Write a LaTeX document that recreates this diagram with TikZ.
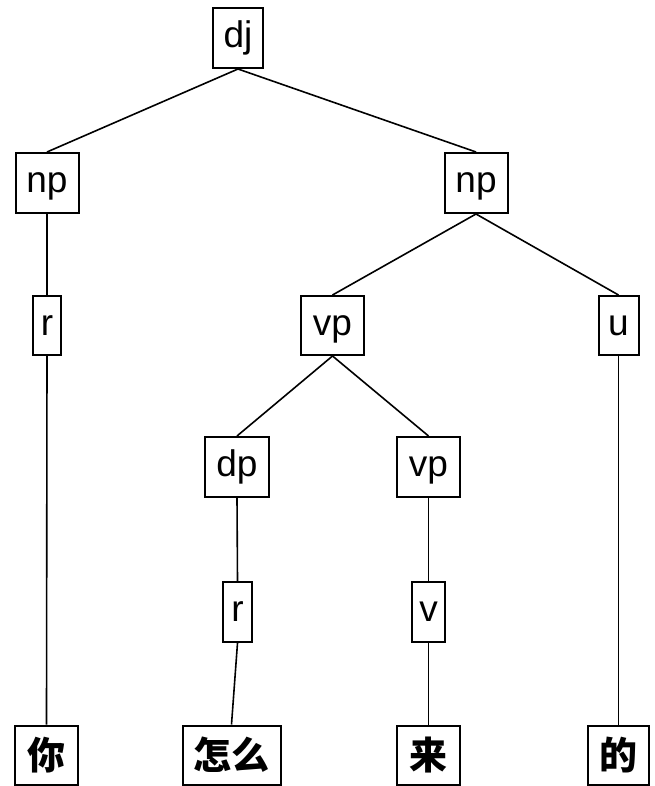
\documentclass[tikz,border=0pt]{standalone}
\usepackage{fontspec}
\setmainfont{Liberation Sans}
\newfontfamily\cjk{Noto Sans CJK SC}
\begin{document}
\begin{tikzpicture}[x=1pt,y=-1pt,
  tbox/.style={draw=black, line width=2pt, fill=white, inner sep=0pt,
    font=\fontsize{37}{37}\selectfont, text height=26pt, text depth=7pt},
  cbox/.style={tbox, font=\cjk\bfseries\fontsize{38}{38}\selectfont, text height=32pt, text depth=4pt},
  link/.style={draw=black, line width=1.6pt}]
\useasboundingbox (0,0) rectangle (654,786);
\node[tbox, minimum width=50pt, minimum height=60pt] (dj) at (238,38) {dj};
\node[tbox, minimum width=63pt, minimum height=60pt] (npL) at (47,183) {np};
\node[tbox, minimum width=63pt, minimum height=60pt] (npR) at (476,183) {np};
\node[tbox, minimum width=28pt, minimum height=59pt] (rL) at (47,325.5) {r};
\node[tbox, minimum width=63pt, minimum height=59pt] (vp) at (332.5,325.5) {vp};
\node[tbox, minimum width=40pt, minimum height=59pt] (u) at (618.5,325.5) {u};
\node[tbox, minimum width=64pt, minimum height=60pt] (dp) at (237,467) {dp};
\node[tbox, minimum width=63pt, minimum height=60pt] (vpB) at (428.5,467) {vp};
\node[tbox, minimum width=29pt, minimum height=60pt] (rB) at (237.5,612) {r};
\node[tbox, minimum width=33pt, minimum height=60pt] (v) at (428.5,612) {v};
\node[cbox, minimum width=63pt, minimum height=59pt] (ni) at (46.5,755) {你};
\node[cbox, minimum width=98pt, minimum height=59pt] (zm) at (231.5,755) {怎么};
\node[cbox, minimum width=63pt, minimum height=59pt] (lai) at (428.5,755) {来};
\node[cbox, minimum width=61pt, minimum height=59pt] (de) at (618.5,755) {的};
\path[link] (dj.south) -- (npL.north);
\path[link] (dj.south) -- (npR.north);
\path[link] (npL.south) -- (rL.north);
\path[link] (rL.south) -- (ni.north);
\path[link] (npR.south) -- (vp.north);
\path[link] (npR.south) -- (u.north);
\path[link] (u.south) -- (de.north);
\path[link] (vp.south) -- (dp.north);
\path[link] (vp.south) -- (vpB.north);
\path[link] (dp.south) -- (rB.north);
\path[link] (rB.south) -- (zm.north);
\path[link] (vpB.south) -- (v.north);
\path[link] (v.south) -- (lai.north);
\end{tikzpicture}
\end{document}
